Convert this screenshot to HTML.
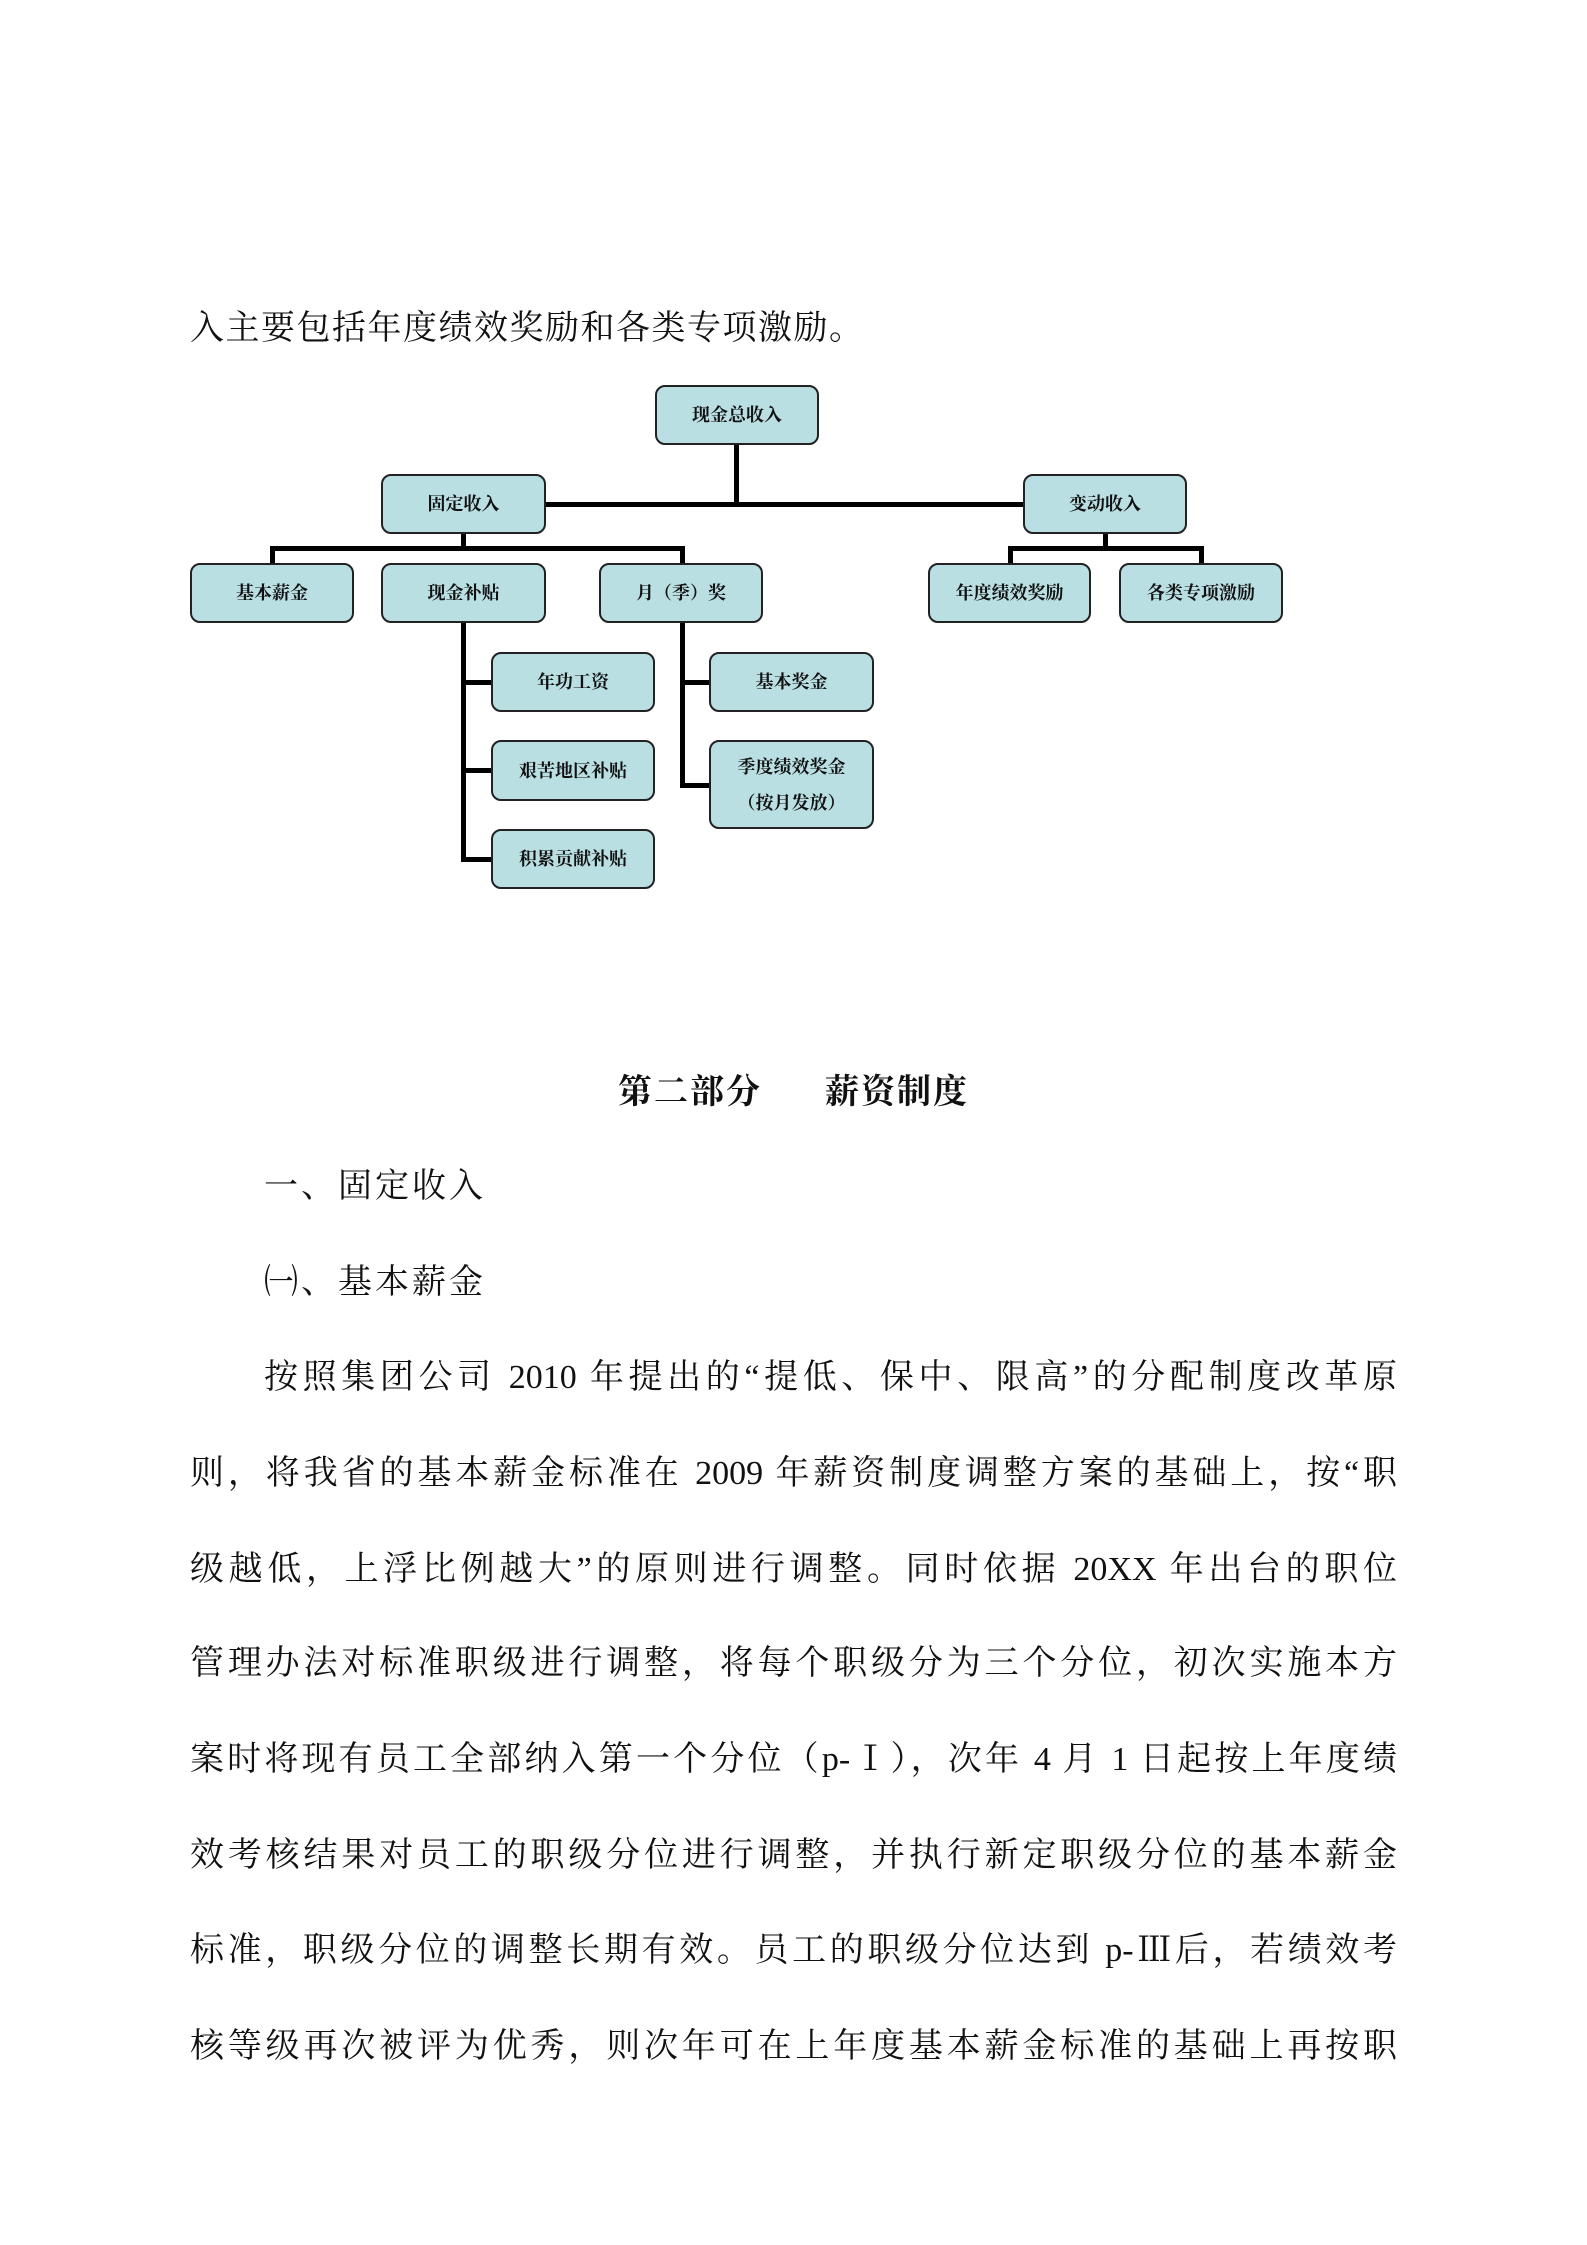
<!DOCTYPE html>
<html><head><meta charset="utf-8"><style>
body{margin:0;background:#fff;}
#p{position:relative;width:1587px;height:2245px;overflow:hidden;font-family:"Liberation Serif","Noto Serif CJK SC",serif;color:#111;}
.b{position:absolute;box-sizing:border-box;background:#b9dfe3;border:2px solid #222;border-radius:10px;display:flex;align-items:center;justify-content:center;text-align:center;font-size:18px;font-weight:bold;line-height:36px;}
.l{position:absolute;background:#000;}
.t{position:absolute;left:190px;width:1207px;font-size:34px;line-height:40px;white-space:nowrap;}
.j{text-align:justify;text-align-last:justify;white-space:normal;}
</style></head><body><div id="p">
<div class="t" style="top:309px;letter-spacing:1.5px">入主要包括年度绩效奖励和各类专项激励。</div>

<div class="l" style="left:734px;top:445px;width:5px;height:62px"></div>
<div class="l" style="left:546px;top:502px;width:477px;height:5px"></div>
<div class="l" style="left:461px;top:534px;width:5px;height:16px"></div>
<div class="l" style="left:270px;top:546px;width:415px;height:5px"></div>
<div class="l" style="left:270px;top:546px;width:5px;height:17px"></div>
<div class="l" style="left:680px;top:546px;width:5px;height:17px"></div>
<div class="l" style="left:1103px;top:534px;width:5px;height:16px"></div>
<div class="l" style="left:1008px;top:546px;width:196px;height:5px"></div>
<div class="l" style="left:1008px;top:546px;width:5px;height:17px"></div>
<div class="l" style="left:1199px;top:546px;width:5px;height:17px"></div>
<div class="l" style="left:461px;top:623px;width:5px;height:239px"></div>
<div class="l" style="left:461px;top:680px;width:30px;height:5px"></div>
<div class="l" style="left:461px;top:768px;width:30px;height:5px"></div>
<div class="l" style="left:461px;top:857px;width:30px;height:5px"></div>
<div class="l" style="left:680px;top:623px;width:5px;height:165px"></div>
<div class="l" style="left:680px;top:680px;width:29px;height:5px"></div>
<div class="l" style="left:680px;top:783px;width:29px;height:5px"></div>

<div class="b" style="left:655px;top:385px;width:164px;height:60px">现金总收入</div>
<div class="b" style="left:381px;top:474px;width:165px;height:60px">固定收入</div>
<div class="b" style="left:1023px;top:474px;width:164px;height:60px">变动收入</div>
<div class="b" style="left:190px;top:563px;width:164px;height:60px">基本薪金</div>
<div class="b" style="left:381px;top:563px;width:165px;height:60px">现金补贴</div>
<div class="b" style="left:599px;top:563px;width:164px;height:60px">月（季）奖</div>
<div class="b" style="left:928px;top:563px;width:163px;height:60px">年度绩效奖励</div>
<div class="b" style="left:1119px;top:563px;width:164px;height:60px">各类专项激励</div>
<div class="b" style="left:491px;top:652px;width:164px;height:60px">年功工资</div>
<div class="b" style="left:709px;top:652px;width:165px;height:60px">基本奖金</div>
<div class="b" style="left:491px;top:740px;width:164px;height:61px">艰苦地区补贴</div>
<div class="b" style="left:709px;top:740px;width:165px;height:89px">季度绩效奖金<br>（按月发放）</div>
<div class="b" style="left:491px;top:829px;width:164px;height:60px">积累贡献补贴</div>

<div class="t" style="top:1073px;left:0;width:1587px;text-align:center;font-weight:bold;letter-spacing:2px">第二部分&nbsp;&nbsp;&nbsp;&nbsp;&nbsp;&nbsp;薪资制度</div>
<div class="t" style="top:1167px;left:264px;letter-spacing:3px">一、固定收入</div>
<div class="t" style="top:1263px;left:264px;letter-spacing:3px">㈠、基本薪金</div>
<div class="t j" style="top:1358px;left:264px;width:1133px">按照集团公司 2010 年提出的“提低、保中、限高”的分配制度改革原</div>
<div class="t j" style="top:1454px">则，将我省的基本薪金标准在 2009 年薪资制度调整方案的基础上，按“职</div>
<div class="t j" style="top:1550px">级越低，上浮比例越大”的原则进行调整。同时依据 20XX 年出台的职位</div>
<div class="t j" style="top:1644px">管理办法对标准职级进行调整，将每个职级分为三个分位，初次实施本方</div>
<div class="t j" style="top:1740px">案时将现有员工全部纳入第一个分位（p-Ⅰ），次年 4 月 1 日起按上年度绩</div>
<div class="t j" style="top:1836px">效考核结果对员工的职级分位进行调整，并执行新定职级分位的基本薪金</div>
<div class="t j" style="top:1931px">标准，职级分位的调整长期有效。员工的职级分位达到 p-Ⅲ后，若绩效考</div>
<div class="t j" style="top:2027px">核等级再次被评为优秀，则次年可在上年度基本薪金标准的基础上再按职</div>
</div></body></html>
